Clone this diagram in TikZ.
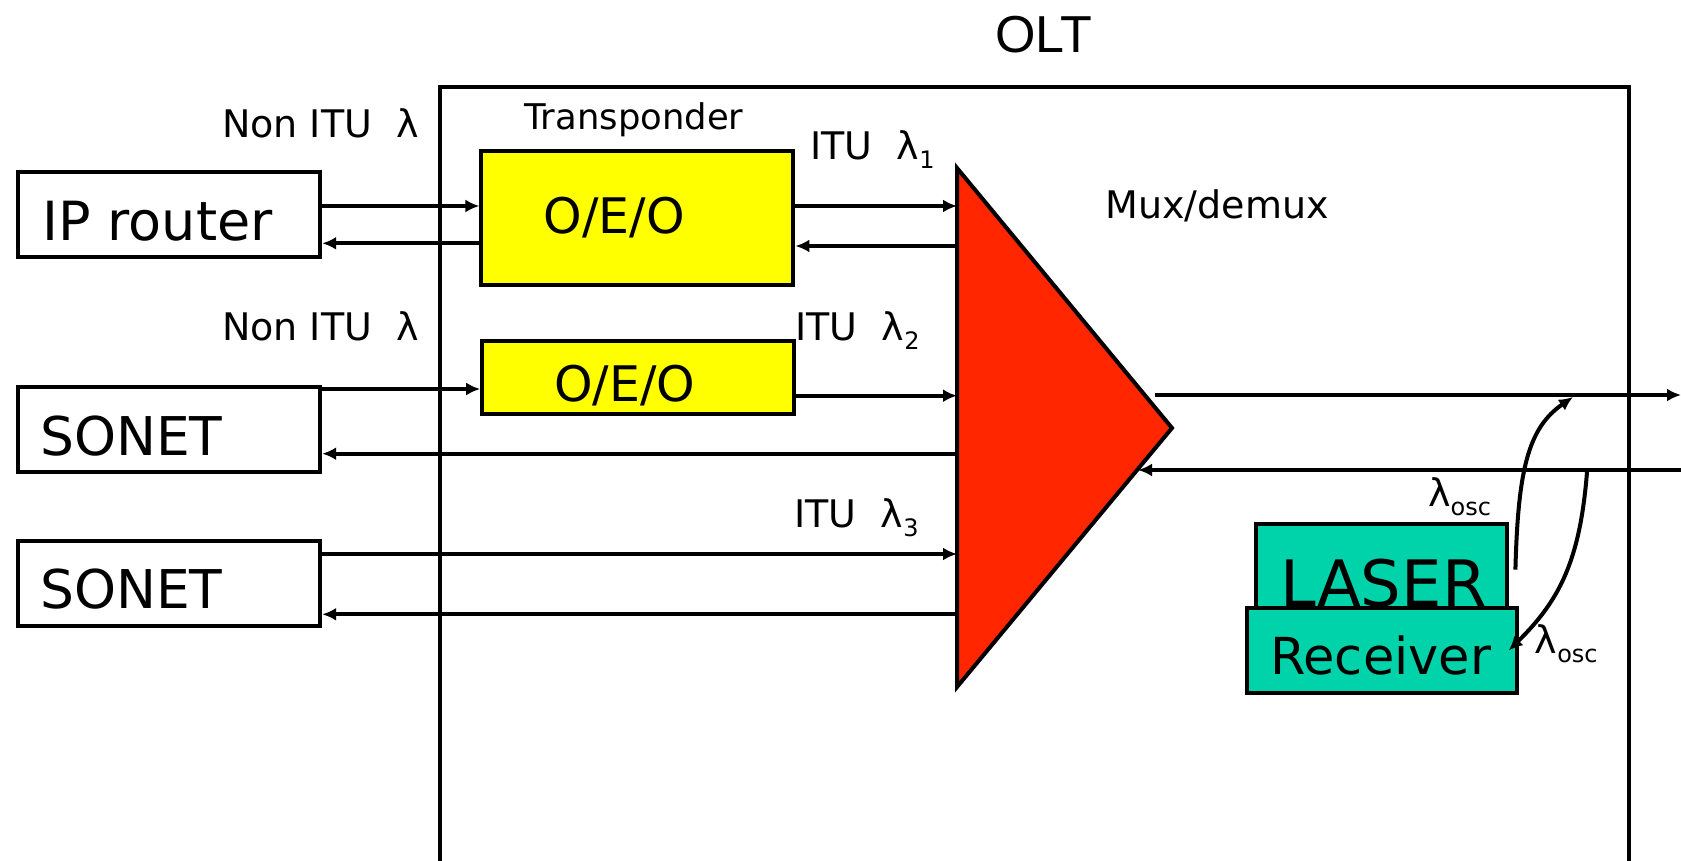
\documentclass[tikz,border=0pt]{standalone}
\usepackage{fontspec}
\setmainfont{DejaVu Sans}
\newfontfamily\oltfont{Liberation Sans}
\usepackage{xcolor}
\usepackage{tikz}
\usetikzlibrary{arrows.meta, positioning}
\definecolor{muxred}{RGB}{255,38,0}
\definecolor{oscgreen}{RGB}{0,210,170}
\definecolor{oeoyellow}{RGB}{255,255,0}
\newcommand{\lsub}[1]{\raisebox{-4.5pt}{\fontsize{12}{12}\selectfont #1}}

\begin{document}
\begin{tikzpicture}[x=0.5pt, y=-0.5pt,
  wire/.style={line width=2pt},
  box/.style={draw, line width=2pt, inner sep=0pt},
  arr/.style={wire, -{Latex[length=7pt,width=6.5pt]}},
  lbl/.style={anchor=base west, inner sep=0pt, font=\fontsize{19}{20}\selectfont},
  big/.style={anchor=base west, inner sep=0pt, font=\fontsize{27}{30}\selectfont}]
\useasboundingbox (0,0) rectangle (1681,861);

% OLT frame
\draw[wire] (439.6,861) -- (439.6,86.8) -- (1628.5,86.8) -- (1628.5,861);
\node[anchor=base west, inner sep=0pt, font=\oltfont\fontsize{26}{28}\selectfont] (olt) at (995,52.7) {OLT};

% client equipment
\node[box, minimum width=151pt, minimum height=42.5pt] (ip) at (169.2,215) {};
\node[box, minimum width=151pt, minimum height=42.5pt] (son1) at (169.2,429.5) {};
\node[box, minimum width=151pt, minimum height=42.5pt] (son2) at (169.2,583.3) {};
\node[big] (iptxt) at (41.7,240.7) {IP router};
\node[big, font=\fontsize{26.7}{30}\selectfont] (son1txt) at (39.8,455) {SONET};
\node[big, font=\fontsize{26.7}{30}\selectfont] (son2txt) at (39.8,608.3) {SONET};

% transponders
\node[box, fill=oeoyellow, minimum width=156pt, minimum height=67pt] (oeo1) at (637.4,218) {};
\node[box, fill=oeoyellow, minimum width=156pt, minimum height=36.8pt] (oeo2) at (638.2,377.3) {};
\node[big, font=\fontsize{24.5}{26}\selectfont] (oeo1txt) at (543.3,233.3) {O/E/O};
\node[big, font=\fontsize{24.5}{26}\selectfont] (oeo2txt) at (554,401.7) {O/E/O};
\node[lbl, font=\fontsize{17.7}{20}\selectfont] (trans) at (524,130) {Transponder};

% mux/demux
\coordinate (mt) at (957,168);
\coordinate (mb) at (957,687);
\coordinate (mx) at (1172,428);
\draw[wire, fill=muxred] (mt) -- (mx) -- (mb) -- cycle;
\node[lbl] (muxtxt) at (1105,218.3) {Mux/demux};

% supervisory channel
\node[box, fill=oscgreen, minimum width=125.7pt, minimum height=45.3pt] (laser) at (1381.7,569.7) {};
\node[big, font=\fontsize{32}{34}\selectfont] (lasertxt) at (1279.7,606.7) {LASER};
\node[box, fill=oscgreen, minimum width=135.1pt, minimum height=42.8pt] (rx) at (1381.6,650.5) {};
\node[big, font=\fontsize{25.5}{28}\selectfont] (rxtxt) at (1270,674) {Receiver};

% labels
\node[lbl] (nitu1) at (221.7,138) {Non ITU\ \ λ};
\node[lbl] (nitu2) at (221.7,340.7) {Non ITU\ \ λ};
\node[lbl] (itu1) at (810,159.3) {ITU\ \ λ\lsub{1}};
\node[lbl] (itu2) at (795,340.7) {ITU\ \ λ\lsub{2}};
\node[lbl] (itu3) at (794,527.7) {ITU\ \ λ\lsub{3}};
\node[lbl] (osc1) at (1427.7,506.7) {λ\lsub{osc}};
\node[lbl] (osc2) at (1534.4,653.3) {λ\lsub{osc}};

% client side
\draw[arr] (ip.east |- 0,206) -- (oeo1.west |- 0,206);
\draw[arr] (oeo1.west |- 0,243.3) -- (ip.east |- 0,243.3);
\draw[arr] (son1.east |- 0,389) -- (oeo2.west |- 0,389);
\draw[arr] (mt |- 0,453.7) -- (son1.east |- 0,453.7);
\draw[arr] (son2.east |- 0,554) -- (mt |- 0,554);
\draw[arr] (mt |- 0,614.3) -- (son2.east |- 0,614.3);

% line side of transponders
\draw[arr] (oeo1.east |- 0,206) -- (mt |- 0,206);
\draw[arr] (mt |- 0,246) -- (oeo1.east |- 0,246);
\draw[arr] (oeo2.east |- 0,395.7) -- (mt |- 0,395.7);

% fibre
\coordinate (mo) at (1155,395);
\coordinate (mi) at (1138,470);
\coordinate (outend) at (1681,395);
\coordinate (inend) at (1681,470);
\draw[arr] (mo) -- (outend);
\draw[arr] (inend) -- (mi);

% osc add/drop
\coordinate (tap) at (1573,397);
\coordinate (drop) at (1587,472);
\draw[arr] ([xshift=3pt]laser.east) .. controls (1518,470) and (1528,428) .. (tap);
\draw[arr] (drop) .. controls (1580,560) and (1560,600) .. ([xshift=-5pt]rx.east);
\end{tikzpicture}
\end{document}
